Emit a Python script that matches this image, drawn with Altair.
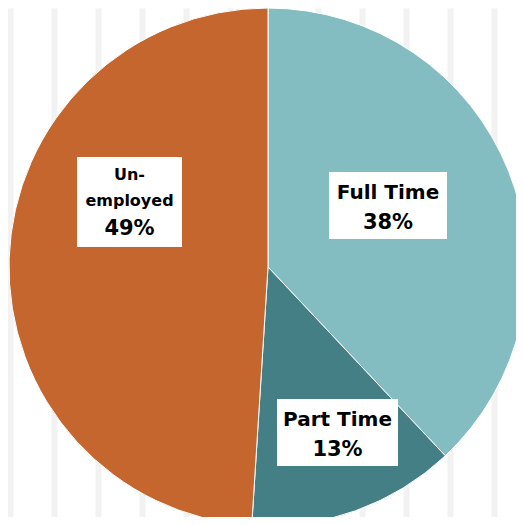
import altair as alt
import pandas as pd

# ---- data ----
categories = ["Full Time", "Part Time", "Unemployed"]
shares = [38, 13, 49]
label_names = [["Full Time"], ["Part Time"], ["Un-", "employed"]]
colors = ["#84BDC1", "#437F84", "#C4662E"]

# ---- layout (chart pixel coordinates; page = chart + 8px margin) ----
W, H = 508, 509
CX, CY, R = 260, 259, 259
boxes = {  # x0, x1, y0, y1
    "Full Time": (321, 439, 164, 231),
    "Part Time": (269, 390, 391, 458),
    "Unemployed": (69, 174, 149, 239),
}
text_cx = {"Full Time": 380, "Part Time": 329.5, "Unemployed": 121.5}
name_baselines = {"Full Time": [191], "Part Time": [417.5], "Unemployed": [171.5, 197.5]}
pct_baseline = {"Full Time": 221, "Part Time": 447.5, "Unemployed": 226.5}
stripe_values = list(range(2, W, 22))

pie_df = pd.DataFrame({"cat": categories, "share": shares, "ord": list(range(len(categories)))})

box_df = pd.DataFrame({
    "cat": categories,
    "x0": [boxes[c][0] for c in categories],
    "x1": [boxes[c][1] for c in categories],
    "y0": [boxes[c][2] for c in categories],
    "y1": [boxes[c][3] for c in categories],
})

name_rows = []
for c, lines in zip(categories, label_names):
    for line, yb in zip(lines, name_baselines[c]):
        name_rows.append({"cat": c, "txt": line, "x": text_cx[c], "y": yb,
                          "size": 20 if c != "Unemployed" else 16})
name_df = pd.DataFrame(name_rows)
pct_df = pd.DataFrame({
    "cat": categories,
    "txt": [f"{v}%" for v in shares],
    "x": [text_cx[c] for c in categories],
    "y": [pct_baseline[c] for c in categories],
})

xs = alt.Scale(domain=[0, W], nice=False, zero=False)
ys = alt.Scale(domain=[0, H], nice=False, zero=False, reverse=True)

pie = alt.Chart(pie_df).mark_arc(radius=R, stroke="white", strokeWidth=1).encode(
    theta=alt.Theta("share:Q", stack=True),
    order=alt.Order("ord:Q"),
    color=alt.Color("cat:N", scale=alt.Scale(domain=categories, range=colors), legend=None),
    x=alt.value(CX),
    y=alt.value(CY),
)

rects = alt.Chart(box_df).mark_rect(color="white").encode(
    x=alt.X("x0:Q", scale=xs, axis=alt.Axis(values=stripe_values, grid=True, gridColor="#F2F2F2",
                                            gridWidth=6, gridOpacity=1, labels=False, ticks=False,
                                            domain=False, title=None)),
    x2="x1:Q",
    y=alt.Y("y0:Q", scale=ys, axis=None),
    y2="y1:Q",
)

names = alt.Chart(name_df).mark_text(font="DejaVu Sans", fontWeight="bold", baseline="alphabetic",
                                     align="center", color="black").encode(
    x=alt.X("x:Q", scale=xs),
    y=alt.Y("y:Q", scale=ys),
    text="txt:N",
    size=alt.Size("size:Q", scale=None, legend=None),
)

pcts = alt.Chart(pct_df).mark_text(font="DejaVu Sans", fontWeight="bold", baseline="alphabetic",
                                   align="center", color="black", fontSize=21).encode(
    x=alt.X("x:Q", scale=xs),
    y=alt.Y("y:Q", scale=ys),
    text="txt:N",
)

chart = alt.layer(rects, pie, rects, names, pcts).properties(
    width=W, height=H, padding=0, autosize=alt.AutoSizeParams(type="none"), background="white"
).configure_view(stroke=None)

chart.save("out.html", embed_options={"renderer": "svg", "actions": False})
